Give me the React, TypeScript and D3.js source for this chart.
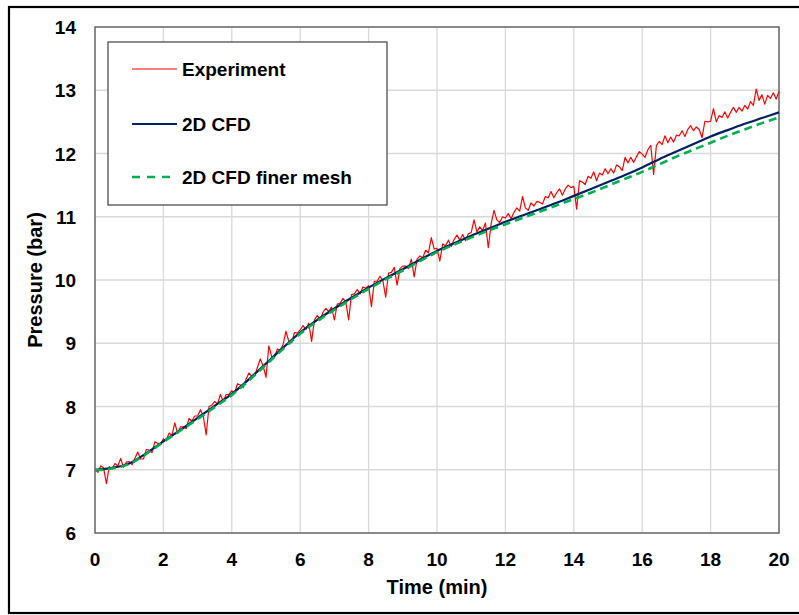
import React from "react";
import * as d3 from "d3";

// ---- Data ----
const cfdTimes: number[] = [
  0, 0.5, 1, 1.5, 2, 2.5, 3, 3.5, 4, 4.5, 5, 5.5, 6, 6.5, 7, 7.5, 8, 8.5, 9, 9.5, 10,
  10.5, 11, 11.5, 12, 12.5, 13, 13.5, 14, 14.5, 15, 15.5, 16, 16.5, 17, 17.5, 18, 18.5, 19, 19.5, 20,
];
const cfd2D: number[] = [
  7.0, 7.03, 7.1, 7.26, 7.45, 7.63, 7.82, 8.01, 8.2, 8.43, 8.68, 8.93, 9.17, 9.37, 9.55, 9.72, 9.88, 10.03, 10.17, 10.32, 10.46,
  10.58, 10.7, 10.81, 10.92, 11.02, 11.12, 11.22, 11.33, 11.44, 11.55, 11.66, 11.78, 11.91, 12.03, 12.15, 12.27, 12.37, 12.47, 12.56, 12.65,
];
const cfdFiner: number[] = [
  6.99, 7.02, 7.09, 7.25, 7.44, 7.62, 7.8, 7.99, 8.18, 8.41, 8.66, 8.91, 9.15, 9.35, 9.53, 9.7, 9.86, 10.01, 10.15, 10.3, 10.44,
  10.56, 10.67, 10.78, 10.88, 10.98, 11.08, 11.18, 11.28, 11.38, 11.49, 11.6, 11.71, 11.83, 11.95, 12.06, 12.17, 12.28, 12.38, 12.48, 12.57,
];

// Experiment: sampled every 5 s (1/12 min) from 0 to 20 min
const expStartMin = 0;
const expStepMin = 1 / 12;
const experiment: number[] = [
  7.0, 6.96, 7.06, 7.03, 6.78, 7.05, 7.01, 7.1, 7.06, 7.18, 7.04, 7.12,
  7.13, 7.08, 7.18, 7.28, 7.17, 7.17, 7.32, 7.31, 7.27, 7.44, 7.42, 7.4,
  7.49, 7.46, 7.58, 7.54, 7.74, 7.57, 7.68, 7.68, 7.65, 7.81, 7.77, 7.85,
  7.85, 7.95, 7.85, 7.55, 8.0, 8.02, 8.08, 8.04, 8.19, 8.08, 8.19, 8.19,
  8.25, 8.22, 8.36, 8.34, 8.3, 8.43, 8.53, 8.48, 8.48, 8.62, 8.75, 8.64,
  8.46, 8.96, 8.79, 8.78, 8.91, 8.89, 8.98, 9.19, 9.03, 9.01, 9.17, 9.16,
  9.21, 9.28, 9.22, 9.32, 9.03, 9.37, 9.44, 9.37, 9.49, 9.55, 9.5, 9.57,
  9.37, 9.62, 9.63, 9.71, 9.65, 9.37, 9.77, 9.78, 9.85, 9.78, 9.89, 9.87,
  9.91, 9.58, 9.98, 9.98, 10.06, 9.99, 9.73, 10.11, 10.12, 10.2, 9.92, 10.18,
  10.22, 10.22, 10.18, 10.33, 10.05, 10.33, 10.38, 10.35, 10.47, 10.43, 10.67, 10.49,
  10.5, 10.3, 10.57, 10.54, 10.63, 10.53, 10.64, 10.71, 10.63, 10.72, 10.62, 10.73,
  10.75, 10.95, 10.76, 10.84, 10.78, 10.9, 10.51, 10.89, 11.1, 10.95, 10.91, 11.0,
  10.98, 11.05, 10.97, 11.07, 11.14, 11.09, 11.32, 11.14, 11.1, 11.22, 11.17, 11.24,
  11.23, 11.2, 11.32, 11.3, 11.4, 11.3, 11.38, 11.44, 11.34, 11.44, 11.5, 11.46,
  11.48, 11.12, 11.57, 11.55, 11.51, 11.64, 11.61, 11.71, 11.57, 11.69, 11.66, 11.76,
  11.68, 11.76, 11.69, 11.82, 11.79, 11.73, 11.94, 11.85, 11.94, 11.86, 11.95, 12.03,
  11.99, 11.94, 12.06, 12.13, 11.67, 12.13, 12.19, 12.14, 12.28, 12.17, 12.26, 12.18,
  12.29, 12.28, 12.36, 12.27, 12.38, 12.44, 12.36, 12.42, 12.38, 12.25, 12.51, 12.5,
  12.51, 12.71, 12.5, 12.6, 12.57, 12.66, 12.56, 12.65, 12.73, 12.65, 12.73, 12.67,
  12.76, 12.7, 12.82, 12.76, 13.02, 12.84, 12.93, 12.78, 12.92, 12.87, 12.96, 12.86,
  12.98,
];

const xTicks: number[] = [0, 2, 4, 6, 8, 10, 12, 14, 16, 18, 20];
const yTicks: number[] = [6, 7, 8, 9, 10, 11, 12, 13, 14];

const seriesNames = ["Experiment", "2D CFD", "2D CFD finer mesh"];
const seriesColors = ["#ff0000", "#002060", "#00b050"];

const xLabel = "Time (min)";
const yLabel = "Pressure (bar)";

// ---- Layout ----
const W = 799;
const H = 615;
const left = 95;
const right = 779;
const top = 27;
const bottom = 533;
const FONT = "'Liberation Sans', Arial, Helvetica, sans-serif";

export default function App() {
  const x = d3.scaleLinear().domain([0, 20]).range([left, right]);
  const y = d3.scaleLinear().domain([6, 14]).range([bottom, top]);

  const expLine = d3
    .line<number>()
    .x((_, i) => x(expStartMin + i * expStepMin))
    .y((d) => y(d));
  const cfdLine = d3
    .line<number>()
    .x((_, i) => x(cfdTimes[i]))
    .y((d) => y(d))
    .curve(d3.curveMonotoneX);

  const legX = 108;
  const legY = 42;
  const legW = 279;
  const legH = 163;
  const legRows = [69, 124, 177];

  return (
    <div style={{ position: "absolute", left: 0, top: 0 }}>
      <svg width={W} height={H} style={{ display: "block" }} fontFamily={FONT}>
        <rect x={0} y={0} width={W} height={H} fill="#ffffff" />
        {/* outer frame */}
        <rect x={9} y={7} width={800} height={606} fill="none" stroke="#000" strokeWidth={2.2} />

        {/* grid */}
        {xTicks.map((t) => (
          <line key={"gx" + t} x1={x(t)} x2={x(t)} y1={top} y2={bottom} stroke="#d9d9d9" strokeWidth={1.3} />
        ))}
        {yTicks.map((t) => (
          <line key={"gy" + t} x1={left} x2={right} y1={y(t)} y2={y(t)} stroke="#d9d9d9" strokeWidth={1.3} />
        ))}
        {/* plot border */}
        <rect x={left} y={top} width={right - left} height={bottom - top} fill="none" stroke="#595959" strokeWidth={1.3} />

        {/* series */}
        <path d={expLine(experiment) || ""} fill="none" stroke={seriesColors[0]} strokeWidth={1.2} strokeLinejoin="round" />
        <path d={cfdLine(cfd2D) || ""} fill="none" stroke={seriesColors[1]} strokeWidth={2.2} />
        <path d={cfdLine(cfdFiner) || ""} fill="none" stroke={seriesColors[2]} strokeWidth={2.6} strokeDasharray="8,5" />

        {/* y tick labels */}
        {yTicks.map((t) => (
          <text key={"yl" + t} x={76} y={y(t) + 7} textAnchor="end" fontSize={19} fontWeight="bold" fill="#000">
            {t}
          </text>
        ))}
        {/* x tick labels */}
        {xTicks.map((t) => (
          <text key={"xl" + t} x={x(t)} y={566} textAnchor="middle" fontSize={19} fontWeight="bold" fill="#000">
            {t}
          </text>
        ))}

        {/* axis titles */}
        <text x={(left + right) / 2} y={594} textAnchor="middle" fontSize={20} fontWeight="bold" fill="#000">
          {xLabel}
        </text>
        <text
          transform={`translate(42, ${(top + bottom) / 2}) rotate(-90)`}
          textAnchor="middle"
          fontSize={20}
          fontWeight="bold"
          fill="#000"
        >
          {yLabel}
        </text>

        {/* legend */}
        <rect x={legX} y={legY} width={legW} height={legH} fill="#ffffff" stroke="#404040" strokeWidth={1.2} />
        {seriesNames.map((name, i) => (
          <g key={name}>
            <line
              x1={132}
              x2={i === 2 ? 170 : 177}
              y1={legRows[i]}
              y2={legRows[i]}
              stroke={seriesColors[i]}
              strokeWidth={i === 0 ? 1.2 : i === 1 ? 2.2 : 2.6}
              strokeDasharray={i === 2 ? "8,7" : undefined}
            />
            <text x={182} y={legRows[i] + 7} fontSize={19} fontWeight="bold" fill="#000">
              {name}
            </text>
          </g>
        ))}
      </svg>
    </div>
  );
}
